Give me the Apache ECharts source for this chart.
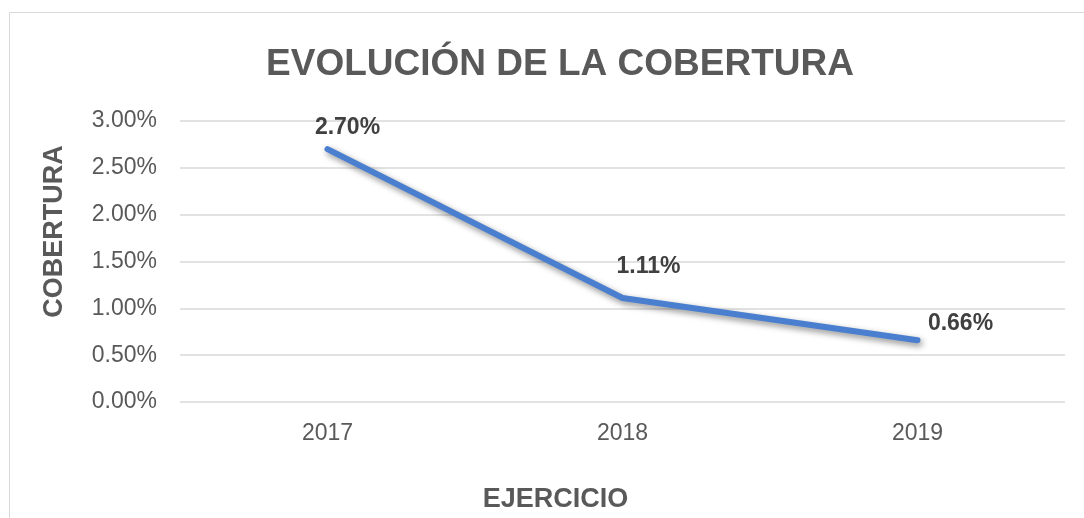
<!DOCTYPE html>
<html>
<head>
<meta charset="utf-8">
<script src="https://cdn.jsdelivr.net/npm/echarts@6/dist/echarts.min.js"></script>
<style>
    body{ margin: 0; background: #ffffff; }
    #chart{ width: 1084px; height: 518px; }
</style>
</head>
<body>
<div id="chart"></div>
<script>
// datos del gráfico
var years = ['2017', '2018', '2019'];
var cobertura = [2.70, 1.11, 0.66];

var chart = echarts.init(document.getElementById('chart'));

var labelFont = 'Liberation Sans, Arial, sans-serif';
var grey = '#595959';
// desplazamiento de cada etiqueta respecto a su punto
var labelShift = [[20, -21], [26, -31], [43, -17]];

chart.setOption({
    animation: false,
    textStyle: { fontFamily: labelFont },
    title: {
        text: 'EVOLUCIÓN DE LA COBERTURA',
        left: 555,
        textAlign: 'center',
        top: 41,
        textStyle: { fontSize: 37, fontWeight: 'bold', color: grey, fontFamily: labelFont }
    },
    graphic: [{
        type: 'rect',
        shape: { x: 9.5, y: 12.5, width: 1090, height: 520 },
        style: { fill: 'none', stroke: '#d9d9d9', lineWidth: 1 },
        silent: true
    }],
    grid: { left: 180, right: 19, top: 121, bottom: 116 },
    xAxis: {
        type: 'category',
        data: years,
        name: 'EJERCICIO',
        nameLocation: 'middle',
        nameGap: 84,
        nameTextStyle: { fontSize: 27, fontWeight: 'bold', color: grey, padding: [0, 134, 0, 0] },
        axisLine: { show: false },
        axisTick: { show: false },
        axisLabel: { fontSize: 23, color: grey, margin: 20 }
    },
    yAxis: {
        type: 'value',
        min: 0,
        max: 3,
        interval: 0.5,
        name: 'COBERTURA',
        nameLocation: 'middle',
        nameGap: 112,
        nameTextStyle: { fontSize: 27, fontWeight: 'bold', color: grey, padding: [0, 0, 0, 60] },
        axisLabel: {
            fontSize: 23, color: grey, margin: 23,
            formatter: function(v){ return v.toFixed(2) + '%'; }
        },
        splitLine: { lineStyle: { color: '#d9d9d9', width: 1.5 } }
    },
    series: [{
        type: 'line',
        data: cobertura,
        symbol: 'circle',
        symbolSize: 1,
        showSymbol: true,
        itemStyle: { color: '#4a7fd0' },
        lineStyle: {
            color: '#4a7fd0', width: 6, cap: 'round', join: 'round',
            shadowColor: 'rgba(0,0,0,0.45)', shadowBlur: 6, shadowOffsetX: 2, shadowOffsetY: 3
        },
        label: {
            show: true,
            position: 'inside',
            fontSize: 23,
            fontWeight: 'bold',
            color: '#404040',
            formatter: function(p){ return p.value.toFixed(2) + '%'; }
        },
        labelLayout: function(params){
            var s = labelShift[params.dataIndex];
            return { dx: s[0], dy: s[1] };
        }
    }]
});
</script>
</body>
</html>
